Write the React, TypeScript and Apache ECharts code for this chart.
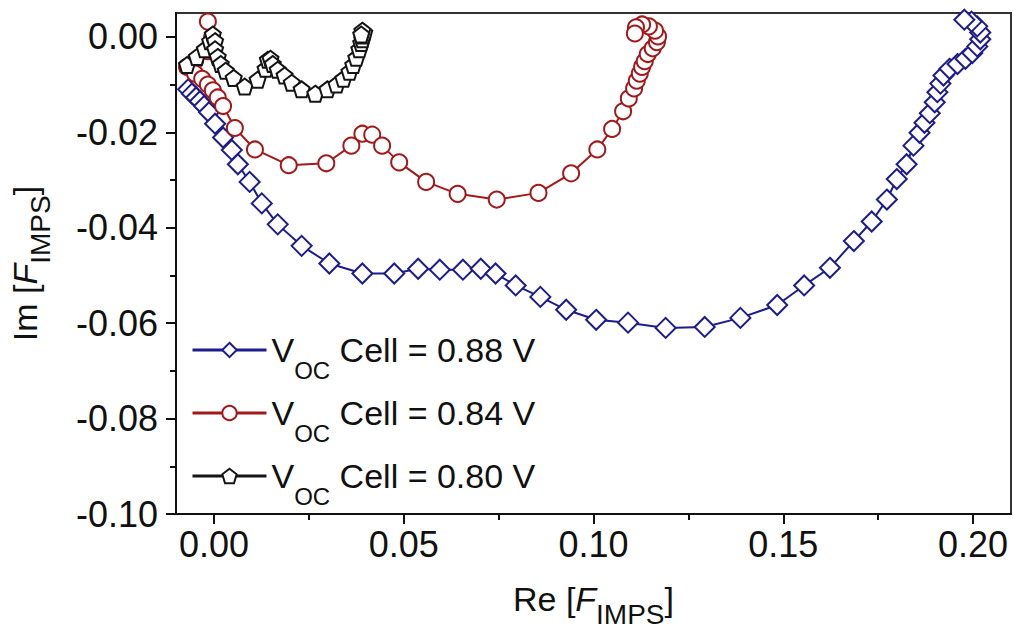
import React, { useEffect, useRef } from "react";
import * as echarts from "echarts";

const xTicks = [0, 0.05, 0.1, 0.15, 0.2];
const xMinorTicks = [0.025, 0.075, 0.125, 0.175];
const yTicks = [-0.1, -0.08, -0.06, -0.04, -0.02, 0];
const yMinorTicks = [-0.09, -0.07, -0.05, -0.03, -0.01];

const cellVoltages = ["0.88", "0.84", "0.80"];

const blue088 = [
  [-0.0068, -0.011], [-0.0058, -0.0119], [-0.0047, -0.0127], [-0.0037, -0.0135],
  [-0.0026, -0.0145], [-0.0013, -0.0158], [0.0003, -0.0182], [0.0024, -0.0211],
  [0.0047, -0.0237], [0.0063, -0.0267], [0.0094, -0.0304], [0.0126, -0.0349],
  [0.0168, -0.0393], [0.0231, -0.0438], [0.0304, -0.0475], [0.0391, -0.0496],
  [0.0475, -0.0496], [0.0538, -0.0486], [0.0595, -0.0488], [0.0656, -0.0488],
  [0.0703, -0.0486], [0.0742, -0.0496], [0.0795, -0.0521], [0.086, -0.0545],
  [0.0928, -0.0572], [0.1007, -0.0593], [0.1091, -0.0599], [0.119, -0.061],
  [0.1293, -0.0608], [0.1387, -0.0589], [0.1484, -0.0562], [0.1555, -0.0521],
  [0.1623, -0.0484], [0.1686, -0.0428], [0.1733, -0.0387], [0.1773, -0.0341],
  [0.1799, -0.0298], [0.1825, -0.0267], [0.1843, -0.0228], [0.1859, -0.0201],
  [0.1872, -0.018], [0.1886, -0.016], [0.1899, -0.0137], [0.1906, -0.0116],
  [0.1914, -0.0098], [0.1922, -0.0081], [0.1938, -0.0067], [0.1959, -0.0057],
  [0.198, -0.0046], [0.1998, -0.0034], [0.2011, -0.002], [0.2019, -0.0005],
  [0.2019, 0.0009], [0.2011, 0.0022], [0.1996, 0.0032], [0.1977, 0.0036],
];

const red084 = [
  [-0.0016, 0.0032], [-0.0005, -0.0001], [-0.0016, -0.003], [-0.005, -0.005],
  [-0.0071, -0.0063], [-0.005, -0.0077], [-0.0031, -0.0088], [-0.0016, -0.01],
  [-0.0003, -0.0112], [0.001, -0.0127], [0.0024, -0.0145], [0.0055, -0.0191],
  [0.0108, -0.0236], [0.0197, -0.0269], [0.0296, -0.0265], [0.0362, -0.0228],
  [0.0391, -0.0203], [0.0417, -0.0205], [0.0443, -0.0228], [0.0488, -0.0263],
  [0.0559, -0.0304], [0.0642, -0.0329], [0.0745, -0.0341], [0.0855, -0.0327],
  [0.0941, -0.0286], [0.101, -0.0236], [0.1049, -0.0193], [0.1078, -0.0156],
  [0.1093, -0.0129], [0.1107, -0.0108], [0.1114, -0.0092], [0.1122, -0.0077],
  [0.1128, -0.0063], [0.1135, -0.0051], [0.1143, -0.0036], [0.1156, -0.0024],
  [0.1167, -0.0011], [0.117, 0.0001], [0.1162, 0.0013], [0.1146, 0.0022],
  [0.1128, 0.0026], [0.1112, 0.002], [0.1109, 0.0007],
];

const black080 = [
  [-0.0071, -0.0059], [-0.0045, -0.0042], [-0.0024, -0.0026], [-0.001, -0.0009],
  [-0.0003, 0.0005], [0.0003, -0.0009], [0.0003, -0.0026], [0.001, -0.0042],
  [0.0018, -0.0057], [0.0031, -0.0071], [0.0052, -0.0086], [0.0081, -0.0104],
  [0.0115, -0.009], [0.0136, -0.0067], [0.0142, -0.0048], [0.0149, -0.0046],
  [0.0155, -0.0057], [0.0168, -0.0069], [0.0186, -0.0081], [0.0205, -0.0096],
  [0.0231, -0.011], [0.0267, -0.0119], [0.0299, -0.011], [0.0323, -0.01],
  [0.0341, -0.0088], [0.0357, -0.0073], [0.0367, -0.0059], [0.0375, -0.0044],
  [0.0383, -0.0026], [0.0388, -0.0013], [0.0391, -0.0005], [0.0393, 0.0003],
  [0.0396, 0.0009], [0.0391, 0.0013], [0.0388, 0.0005],
];

const FONT = "'Liberation Sans', Arial, Helvetica, sans-serif";
const BLUE = "#1c1c8c";
const RED = "#a3191b";
const BLACK = "#141414";
const INK = "#111111";
const PENTAGON =
  "path://M0,-10 L9.51,-3.09 L5.88,8.09 L-5.88,8.09 L-9.51,-3.09 Z";

const nameRich = {
  n: { fontSize: 34, fontFamily: FONT, color: INK },
  i: { fontSize: 34, fontFamily: FONT, fontStyle: "italic", color: INK },
  sub: { fontSize: 28, fontFamily: FONT, color: INK, padding: [30, 0, 0, 0] },
};

export default function App() {
  const ref = useRef<HTMLDivElement>(null);

  useEffect(() => {
    if (!ref.current) return;
    const chart = echarts.init(ref.current, undefined, { renderer: "svg" });

    const mk = (
      name: string,
      data: number[][],
      color: string,
      symbol: string,
      size: number
    ) => ({
      name,
      type: "line",
      xAxisIndex: 0,
      yAxisIndex: 0,
      data,
      symbol,
      symbolSize: size,
      showAllSymbol: true,
      lineStyle: { color, width: 2 },
      itemStyle: { color: "#ffffff", borderColor: color, borderWidth: 2 },
      emphasis: { disabled: true },
    });

    const names = cellVoltages.map((v) => `VOC Cell = ${v} V`);

    const minorAxisCommon = {
      type: "value",
      axisLine: { show: false, onZero: false },
      axisLabel: { show: false },
      splitLine: { show: false },
    };

    const option: any = {
      animation: false,
      backgroundColor: "#ffffff",
      textStyle: { fontFamily: FONT },
      grid: {
        left: 171,
        right: 2,
        top: 13,
        bottom: 111,
        show: true,
        borderColor: "#333333",
        borderWidth: 2,
        backgroundColor: "transparent",
      },
      legend: {
        orient: "vertical",
        left: 186,
        top: 328,
        itemWidth: 74,
        itemHeight: 18,
        itemGap: 14,
        data: names,
        selectedMode: false,
        lineStyle: { width: 3 },
        formatter: (name: string) => {
          const m = name.match(/\d\.\d+/);
          return `{v|V}{sub|OC}{v| Cell = ${m ? m[0] : ""} V}`;
        },
        textStyle: {
          color: INK,
          fontFamily: FONT,
          rich: {
            v: { fontSize: 34, fontFamily: FONT, color: INK },
            sub: {
              fontSize: 24,
              fontFamily: FONT,
              color: INK,
              padding: [40, 0, 0, 0],
            },
          },
        },
      },
      xAxis: [
        {
          type: "value",
          min: -0.01,
          max: 0.21,
          position: "bottom",
          name: "{n|Re [}{i|F}{sub|IMPS}{n|]}",
          nameLocation: "middle",
          nameGap: 56,
          nameTextStyle: { color: INK, fontSize: 34, fontFamily: FONT, rich: nameRich },
          axisLine: { show: true, onZero: false, lineStyle: { color: INK, width: 2 } },
          axisTick: {
            show: true,
            inside: false,
            length: 10,
            customValues: xTicks,
            lineStyle: { color: INK, width: 2 },
          },
          axisLabel: {
            show: true,
            customValues: xTicks,
            margin: 12,
            fontSize: 36,
            fontFamily: FONT,
            color: INK,
            formatter: (v: number) => v.toFixed(2),
          },
          splitLine: { show: false },
        },
        {
          ...minorAxisCommon,
          min: -0.01,
          max: 0.21,
          position: "bottom",
          axisTick: {
            show: true,
            inside: false,
            length: 6,
            customValues: xMinorTicks,
            lineStyle: { color: INK, width: 2 },
          },
        },
      ],
      yAxis: [
        {
          type: "value",
          min: -0.1,
          max: 0.005,
          position: "left",
          name: "{n|Im [}{i|F}{sub|IMPS}{n|]}",
          nameLocation: "middle",
          nameRotate: 90,
          nameGap: 122,
          nameTextStyle: { color: INK, fontSize: 34, fontFamily: FONT, rich: nameRich },
          axisLine: { show: true, onZero: false, lineStyle: { color: INK, width: 2 } },
          axisTick: {
            show: true,
            inside: false,
            length: 10,
            customValues: yTicks,
            lineStyle: { color: INK, width: 2 },
          },
          axisLabel: {
            show: true,
            customValues: yTicks,
            margin: 18,
            fontSize: 36,
            fontFamily: FONT,
            color: INK,
            formatter: (v: number) => v.toFixed(2),
          },
          splitLine: { show: false },
        },
        {
          ...minorAxisCommon,
          min: -0.1,
          max: 0.005,
          position: "left",
          axisTick: {
            show: true,
            inside: false,
            length: 6,
            customValues: yMinorTicks,
            lineStyle: { color: INK, width: 2 },
          },
        },
      ],
      series: [
        mk(names[0], blue088, BLUE, "diamond", 20),
        mk(names[1], red084, RED, "circle", 16),
        mk(names[2], black080, BLACK, PENTAGON, 16),
      ],
    };

    chart.setOption(option);
    return () => chart.dispose();
  }, []);

  return (
    <div
      ref={ref}
      style={{ position: "absolute", left: 0, top: 0, width: 1013, height: 633 }}
    />
  );
}
